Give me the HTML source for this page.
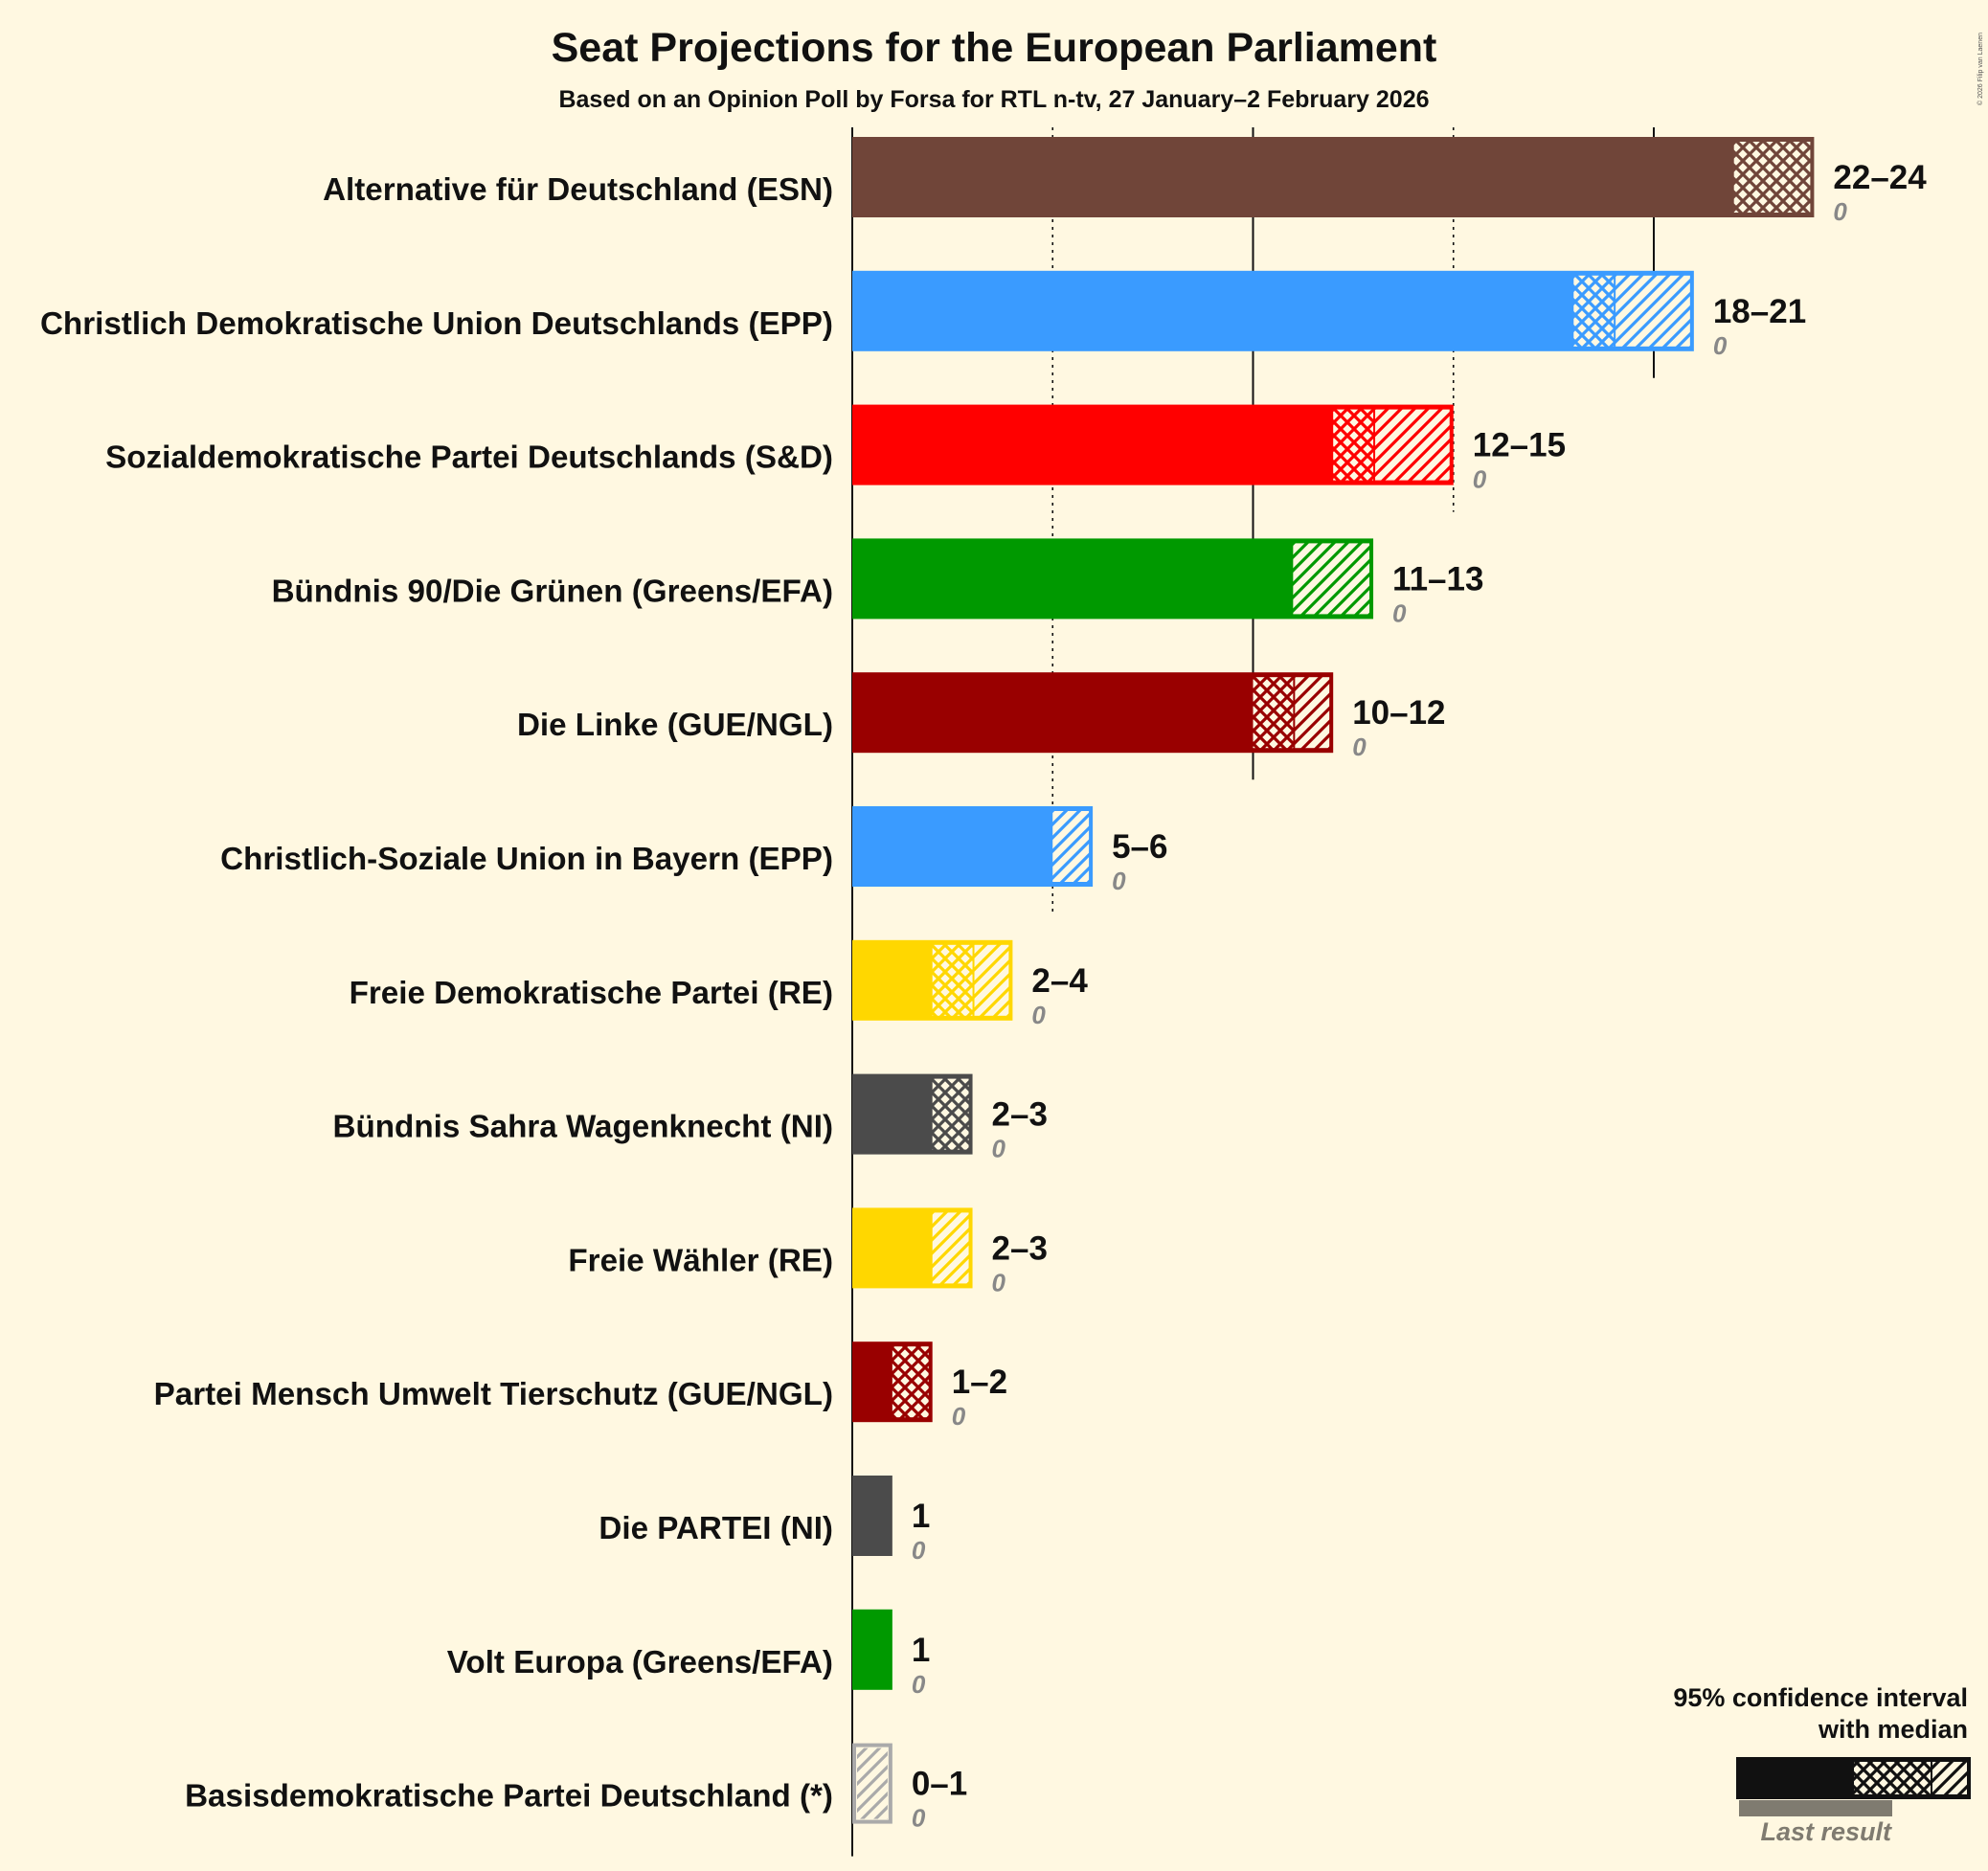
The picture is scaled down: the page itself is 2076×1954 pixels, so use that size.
<!DOCTYPE html>
<html><head><meta charset="utf-8"><style>
body{margin:0;background:#FFF8E1;}
svg{display:block;font-family:"Liberation Sans",sans-serif;}
</style></head><body>
<svg id="chart" width="2076" height="1954" viewBox="0 0 2076 1954">
<rect width="2076" height="1954" fill="#FFF8E1"/>
<defs id="defs"></defs>
<text x="1038" y="64" text-anchor="middle" font-size="43" font-weight="bold" fill="#111">Seat Projections for the European Parliament</text>
<text x="1038" y="112" text-anchor="middle" font-size="25" font-weight="bold" fill="#111">Based on an Opinion Poll by Forsa for RTL n-tv, 27 January–2 February 2026</text>
<text transform="translate(2070,110) rotate(-90)" font-size="7" fill="#555">© 2026 Filip van Laenen</text>
<g id="grid"></g>
<g id="bars"></g>
<g id="legend">
<text x="2055" y="1782" text-anchor="end" font-size="27" font-weight="bold" fill="#111">95% confidence interval</text>
<text x="2055" y="1815" text-anchor="end" font-size="27" font-weight="bold" fill="#111">with median</text>
<rect x="1816" y="1880" width="160" height="17" fill="#7F7B70"/>
<rect x="1813" y="1835" width="245" height="44" fill="#111"/>
<rect x="1936" y="1840" width="80" height="34" fill="url(#cross-111)"/>
<rect x="2018" y="1840" width="36" height="34" fill="url(#diag-111)"/>
<text x="1975" y="1922" text-anchor="end" font-size="27" font-style="italic" font-weight="bold" fill="#7F7B70">Last result</text>
</g>
</svg>
<script>
const parties = ["Alternative für Deutschland (ESN)","Christlich Demokratische Union Deutschlands (EPP)","Sozialdemokratische Partei Deutschlands (S&D)","Bündnis 90/Die Grünen (Greens/EFA)","Die Linke (GUE/NGL)","Christlich-Soziale Union in Bayern (EPP)","Freie Demokratische Partei (RE)","Bündnis Sahra Wagenknecht (NI)","Freie Wähler (RE)","Partei Mensch Umwelt Tierschutz (GUE/NGL)","Die PARTEI (NI)","Volt Europa (Greens/EFA)","Basisdemokratische Partei Deutschland (*)"];
const lows = [22,18,12,11,10,5,2,2,2,1,1,1,0];
const medians = [24,19,13,11,11,5,3,3,2,2,1,1,0];
const highs = [24,21,15,13,12,6,4,3,3,2,1,1,1];
const lastResults = [0,0,0,0,0,0,0,0,0,0,0,0,0];
const colors = ["#704539","#3A9BFF","#FF0000","#009900","#990000","#3A9BFF","#FFD700","#4B4B4B","#FFD700","#990000","#4B4B4B","#009900","#AAAAAA"];
const ticks = [0,5,10,15,20];

const NS="http://www.w3.org/2000/svg";
const x0=890, perSeat=41.85, y0=185, rowH=139.8, barH=84;
const xs=v=>x0+v*perSeat;
const ys=i=>y0+i*rowH;
function mk(tag,attrs,parent){const e=document.createElementNS(NS,tag);for(const k in attrs)e.setAttribute(k,attrs[k]);parent.appendChild(e);return e;}
const defs=document.getElementById('defs');
function pats(c){
  const id=c.replace('#','');
  if(document.getElementById('cross-'+id))return;
  const p=mk('pattern',{id:'cross-'+id,patternUnits:'userSpaceOnUse',width:14,height:14},defs);
  mk('rect',{width:14,height:14,fill:'#FFF8E1'},p);
  mk('path',{d:'M0,0L14,14M14,0L0,14M-7,7L7,21M7,-7L21,7M7,21L21,7M-7,7L7,-7',stroke:c,'stroke-width':3.2},p);
  const q=mk('pattern',{id:'diag-'+id,patternUnits:'userSpaceOnUse',width:14,height:14},defs);
  mk('rect',{width:14,height:14,fill:'#FFF8E1'},q);
  mk('path',{d:'M0,14L14,0M-7,7L7,-7M7,21L21,7',stroke:c,'stroke-width':3.2},q);
}
pats('#111');
const grid=document.getElementById('grid');
ticks.forEach(t=>{
  let last=-1;highs.forEach((h,i)=>{if(h>=t)last=i;});
  if(t===0)last=parties.length-1;
  const yEnd=ys(last)+barH/2+(t===0?34:28);
  const l=mk('line',{x1:xs(t),x2:xs(t),y1:133,y2:yEnd,stroke:'#111','stroke-width':t%10===0?2:1.6},grid);
  if(t%10!==0)l.setAttribute('stroke-dasharray','3,5');
  
  
});
const bars=document.getElementById('bars');
parties.forEach((p,i)=>{
  const c=colors[i];pats(c);const id=c.replace('#','');
  const cy=ys(i), top=cy-barH/2;
  const g=mk('g',{},bars);
  
  
  const lab=mk('text',{x:870,y:cy+24,'text-anchor':'end','font-size':33.2,'font-weight':'bold',fill:'#111'},g);
  lab.textContent=p;
  
  
  const r=mk('rect',{x:xs(0),y:top,width:xs(highs[i])-xs(0),height:barH,fill:c},g);
  
  
  if(lows[i]===0&&highs[i]>0){r.setAttribute('fill','#FFF8E1');r.setAttribute('stroke',c);r.setAttribute('stroke-width',4);r.setAttribute('x',xs(0)+2);r.setAttribute('y',top+2);r.setAttribute('width',xs(highs[i])-xs(0)-4);r.setAttribute('height',barH-4);}
  if(medians[i]>lows[i]){
    const h=mk('rect',{x:xs(lows[i]),y:top+5,width:xs(medians[i])-xs(lows[i])-(medians[i]===highs[i]?4:0),height:barH-10,fill:'url(#cross-'+id+')'},g);
    
    
  }
  if(highs[i]>medians[i]){
    const d=mk('rect',{x:xs(medians[i])+(medians[i]>lows[i]?2:(lows[i]===0?5:0)),y:top+5,width:xs(highs[i])-xs(medians[i])-(medians[i]>lows[i]?6:(lows[i]===0?10:4)),height:barH-10,fill:'url(#diag-'+id+')'},g);
    
    
  }
  const vt=mk('text',{x:xs(highs[i])+20,y:cy+12,'font-size':35,'font-weight':'bold',fill:'#111'},g);
  vt.textContent=lows[i]===highs[i]?String(lows[i]):lows[i]+'–'+highs[i];
  
  
  const lt=mk('text',{x:xs(highs[i])+20,y:cy+45,'font-size':26,'font-style':'italic','font-weight':'bold',fill:'#888'},g);
  lt.textContent=String(lastResults[i]);
  
  
});
</script>
</body></html>
